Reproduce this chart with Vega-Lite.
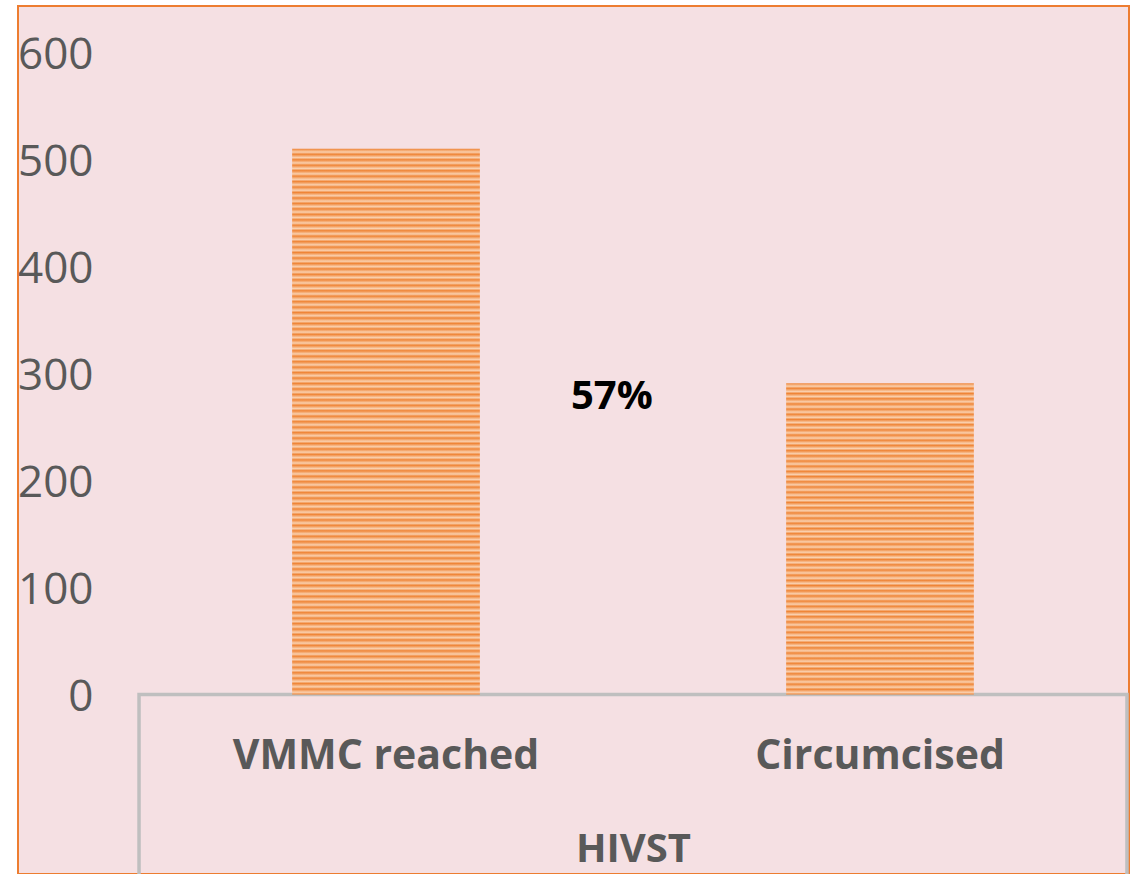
{
  "$schema": "https://vega.github.io/schema/vega-lite/v6.json",
  "autosize": {"type": "none"},
  "padding": {"left": 18, "top": 6, "right": 11, "bottom": 0},
  "width": 1111,
  "height": 868,
  "background": "white",
  "config": {"view": {"fill": "#F5E0E3", "stroke": "#ED7D31", "strokeWidth": 2}},
  "data": {"values": [
    {"category": "VMMC reached", "count": 510},
    {"category": "Circumcised", "count": 291}
  ]},
  "layer": [
    {
      "data": {"values": [{"box": "HIVST"}]},
      "mark": {"type": "rect", "fillOpacity": 0, "stroke": "#BFBFBF", "strokeWidth": 3.5, "clip": false},
      "encoding": {
        "x": {"datum": "VMMC reached", "type": "nominal", "bandPosition": -0.8157},
        "x2": {"datum": "Circumcised", "bandPosition": 1.8157},
        "y": {"datum": 0, "type": "quantitative"},
        "y2": {"datum": -300}
      }
    },
    {
      "transform": [{"filter": "datum.category === 'VMMC reached'"}],
      "mark": {"type": "bar", "color": {"gradient": "linear", "x1": 0, "y1": 0, "x2": 0, "y2": 1, "stops": [
        {"offset":0,"color":"#EF8537"},{"offset":0.006,"color":"#FAD0AE"},
        {"offset":0.01,"color":"#EF8537"},{"offset":0.016,"color":"#FAD0AE"},
        {"offset":0.02,"color":"#EF8537"},{"offset":0.026,"color":"#FAD0AE"},
        {"offset":0.03,"color":"#EF8537"},{"offset":0.036,"color":"#FAD0AE"},
        {"offset":0.04,"color":"#EF8537"},{"offset":0.046,"color":"#FAD0AE"},
        {"offset":0.05,"color":"#EF8537"},{"offset":0.056,"color":"#FAD0AE"},
        {"offset":0.06,"color":"#EF8537"},{"offset":0.066,"color":"#FAD0AE"},
        {"offset":0.07,"color":"#EF8537"},{"offset":0.076,"color":"#FAD0AE"},
        {"offset":0.08,"color":"#EF8537"},{"offset":0.086,"color":"#FAD0AE"},
        {"offset":0.09,"color":"#EF8537"},{"offset":0.096,"color":"#FAD0AE"},
        {"offset":0.10,"color":"#EF8537"},{"offset":0.106,"color":"#FAD0AE"},
        {"offset":0.11,"color":"#EF8537"},{"offset":0.116,"color":"#FAD0AE"},
        {"offset":0.12,"color":"#EF8537"},{"offset":0.126,"color":"#FAD0AE"},
        {"offset":0.13,"color":"#EF8537"},{"offset":0.136,"color":"#FAD0AE"},
        {"offset":0.14,"color":"#EF8537"},{"offset":0.146,"color":"#FAD0AE"},
        {"offset":0.15,"color":"#EF8537"},{"offset":0.156,"color":"#FAD0AE"},
        {"offset":0.16,"color":"#EF8537"},{"offset":0.166,"color":"#FAD0AE"},
        {"offset":0.17,"color":"#EF8537"},{"offset":0.176,"color":"#FAD0AE"},
        {"offset":0.18,"color":"#EF8537"},{"offset":0.186,"color":"#FAD0AE"},
        {"offset":0.19,"color":"#EF8537"},{"offset":0.196,"color":"#FAD0AE"},
        {"offset":0.20,"color":"#EF8537"},{"offset":0.206,"color":"#FAD0AE"},
        {"offset":0.21,"color":"#EF8537"},{"offset":0.216,"color":"#FAD0AE"},
        {"offset":0.22,"color":"#EF8537"},{"offset":0.226,"color":"#FAD0AE"},
        {"offset":0.23,"color":"#EF8537"},{"offset":0.236,"color":"#FAD0AE"},
        {"offset":0.24,"color":"#EF8537"},{"offset":0.246,"color":"#FAD0AE"},
        {"offset":0.25,"color":"#EF8537"},{"offset":0.256,"color":"#FAD0AE"},
        {"offset":0.26,"color":"#EF8537"},{"offset":0.266,"color":"#FAD0AE"},
        {"offset":0.27,"color":"#EF8537"},{"offset":0.276,"color":"#FAD0AE"},
        {"offset":0.28,"color":"#EF8537"},{"offset":0.286,"color":"#FAD0AE"},
        {"offset":0.29,"color":"#EF8537"},{"offset":0.296,"color":"#FAD0AE"},
        {"offset":0.30,"color":"#EF8537"},{"offset":0.306,"color":"#FAD0AE"},
        {"offset":0.31,"color":"#EF8537"},{"offset":0.316,"color":"#FAD0AE"},
        {"offset":0.32,"color":"#EF8537"},{"offset":0.326,"color":"#FAD0AE"},
        {"offset":0.33,"color":"#EF8537"},{"offset":0.336,"color":"#FAD0AE"},
        {"offset":0.34,"color":"#EF8537"},{"offset":0.346,"color":"#FAD0AE"},
        {"offset":0.35,"color":"#EF8537"},{"offset":0.356,"color":"#FAD0AE"},
        {"offset":0.36,"color":"#EF8537"},{"offset":0.366,"color":"#FAD0AE"},
        {"offset":0.37,"color":"#EF8537"},{"offset":0.376,"color":"#FAD0AE"},
        {"offset":0.38,"color":"#EF8537"},{"offset":0.386,"color":"#FAD0AE"},
        {"offset":0.39,"color":"#EF8537"},{"offset":0.396,"color":"#FAD0AE"},
        {"offset":0.40,"color":"#EF8537"},{"offset":0.406,"color":"#FAD0AE"},
        {"offset":0.41,"color":"#EF8537"},{"offset":0.416,"color":"#FAD0AE"},
        {"offset":0.42,"color":"#EF8537"},{"offset":0.426,"color":"#FAD0AE"},
        {"offset":0.43,"color":"#EF8537"},{"offset":0.436,"color":"#FAD0AE"},
        {"offset":0.44,"color":"#EF8537"},{"offset":0.446,"color":"#FAD0AE"},
        {"offset":0.45,"color":"#EF8537"},{"offset":0.456,"color":"#FAD0AE"},
        {"offset":0.46,"color":"#EF8537"},{"offset":0.466,"color":"#FAD0AE"},
        {"offset":0.47,"color":"#EF8537"},{"offset":0.476,"color":"#FAD0AE"},
        {"offset":0.48,"color":"#EF8537"},{"offset":0.486,"color":"#FAD0AE"},
        {"offset":0.49,"color":"#EF8537"},{"offset":0.496,"color":"#FAD0AE"},
        {"offset":0.50,"color":"#EF8537"},{"offset":0.506,"color":"#FAD0AE"},
        {"offset":0.51,"color":"#EF8537"},{"offset":0.516,"color":"#FAD0AE"},
        {"offset":0.52,"color":"#EF8537"},{"offset":0.526,"color":"#FAD0AE"},
        {"offset":0.53,"color":"#EF8537"},{"offset":0.536,"color":"#FAD0AE"},
        {"offset":0.54,"color":"#EF8537"},{"offset":0.546,"color":"#FAD0AE"},
        {"offset":0.55,"color":"#EF8537"},{"offset":0.556,"color":"#FAD0AE"},
        {"offset":0.56,"color":"#EF8537"},{"offset":0.566,"color":"#FAD0AE"},
        {"offset":0.57,"color":"#EF8537"},{"offset":0.576,"color":"#FAD0AE"},
        {"offset":0.58,"color":"#EF8537"},{"offset":0.586,"color":"#FAD0AE"},
        {"offset":0.59,"color":"#EF8537"},{"offset":0.596,"color":"#FAD0AE"},
        {"offset":0.60,"color":"#EF8537"},{"offset":0.606,"color":"#FAD0AE"},
        {"offset":0.61,"color":"#EF8537"},{"offset":0.616,"color":"#FAD0AE"},
        {"offset":0.62,"color":"#EF8537"},{"offset":0.626,"color":"#FAD0AE"},
        {"offset":0.63,"color":"#EF8537"},{"offset":0.636,"color":"#FAD0AE"},
        {"offset":0.64,"color":"#EF8537"},{"offset":0.646,"color":"#FAD0AE"},
        {"offset":0.65,"color":"#EF8537"},{"offset":0.656,"color":"#FAD0AE"},
        {"offset":0.66,"color":"#EF8537"},{"offset":0.666,"color":"#FAD0AE"},
        {"offset":0.67,"color":"#EF8537"},{"offset":0.676,"color":"#FAD0AE"},
        {"offset":0.68,"color":"#EF8537"},{"offset":0.686,"color":"#FAD0AE"},
        {"offset":0.69,"color":"#EF8537"},{"offset":0.696,"color":"#FAD0AE"},
        {"offset":0.70,"color":"#EF8537"},{"offset":0.706,"color":"#FAD0AE"},
        {"offset":0.71,"color":"#EF8537"},{"offset":0.716,"color":"#FAD0AE"},
        {"offset":0.72,"color":"#EF8537"},{"offset":0.726,"color":"#FAD0AE"},
        {"offset":0.73,"color":"#EF8537"},{"offset":0.736,"color":"#FAD0AE"},
        {"offset":0.74,"color":"#EF8537"},{"offset":0.746,"color":"#FAD0AE"},
        {"offset":0.75,"color":"#EF8537"},{"offset":0.756,"color":"#FAD0AE"},
        {"offset":0.76,"color":"#EF8537"},{"offset":0.766,"color":"#FAD0AE"},
        {"offset":0.77,"color":"#EF8537"},{"offset":0.776,"color":"#FAD0AE"},
        {"offset":0.78,"color":"#EF8537"},{"offset":0.786,"color":"#FAD0AE"},
        {"offset":0.79,"color":"#EF8537"},{"offset":0.796,"color":"#FAD0AE"},
        {"offset":0.80,"color":"#EF8537"},{"offset":0.806,"color":"#FAD0AE"},
        {"offset":0.81,"color":"#EF8537"},{"offset":0.816,"color":"#FAD0AE"},
        {"offset":0.82,"color":"#EF8537"},{"offset":0.826,"color":"#FAD0AE"},
        {"offset":0.83,"color":"#EF8537"},{"offset":0.836,"color":"#FAD0AE"},
        {"offset":0.84,"color":"#EF8537"},{"offset":0.846,"color":"#FAD0AE"},
        {"offset":0.85,"color":"#EF8537"},{"offset":0.856,"color":"#FAD0AE"},
        {"offset":0.86,"color":"#EF8537"},{"offset":0.866,"color":"#FAD0AE"},
        {"offset":0.87,"color":"#EF8537"},{"offset":0.876,"color":"#FAD0AE"},
        {"offset":0.88,"color":"#EF8537"},{"offset":0.886,"color":"#FAD0AE"},
        {"offset":0.89,"color":"#EF8537"},{"offset":0.896,"color":"#FAD0AE"},
        {"offset":0.90,"color":"#EF8537"},{"offset":0.906,"color":"#FAD0AE"},
        {"offset":0.91,"color":"#EF8537"},{"offset":0.916,"color":"#FAD0AE"},
        {"offset":0.92,"color":"#EF8537"},{"offset":0.926,"color":"#FAD0AE"},
        {"offset":0.93,"color":"#EF8537"},{"offset":0.936,"color":"#FAD0AE"},
        {"offset":0.94,"color":"#EF8537"},{"offset":0.946,"color":"#FAD0AE"},
        {"offset":0.95,"color":"#EF8537"},{"offset":0.956,"color":"#FAD0AE"},
        {"offset":0.96,"color":"#EF8537"},{"offset":0.966,"color":"#FAD0AE"},
        {"offset":0.97,"color":"#EF8537"},{"offset":0.976,"color":"#FAD0AE"},
        {"offset":0.98,"color":"#EF8537"},{"offset":0.986,"color":"#FAD0AE"},
        {"offset":0.99,"color":"#EF8537"},{"offset":0.996,"color":"#FAD0AE"},
        {"offset":1,"color":"#EF8537"}
      ]}},
      "encoding": {
        "x": {
          "field": "category", "type": "nominal", "sort": null,
          "scale": {"domain": ["VMMC reached", "Circumcised"], "range": [121, 1109], "paddingInner": 0.62, "paddingOuter": 0.31},
          "axis": {
            "orient": "bottom", "offset": -180, "domain": false, "ticks": false, "labelAngle": 0, "labelLimit": 0,
            "labelAlign": "center", "labelBound": false, "labelOverlap": false,
            "labelFont": "Open Sans", "labelFontSize": 41, "labelFontWeight": "bold", "labelColor": "#595959",
            "labelPadding": 62,
            "title": "HIVST", "titleFont": "Open Sans", "titleFontSize": 40, "titleFontWeight": "bold",
            "titleColor": "#595959", "titlePadding": 53
          }
        },
        "y": {
          "field": "count", "type": "quantitative",
          "scale": {"domain": [-167.8, 643.5], "nice": false, "zero": false},
          "axis": {
            "values": [0, 100, 200, 300, 400, 500, 600], "domain": false, "ticks": false, "tickSize": 0, "grid": false,
            "labelFont": "Open Sans", "labelFontSize": 44, "labelColor": "#595959", "labelPadding": 0, "labelOffset": 3,
            "offset": -75, "title": null
          }
        }
      }
    },
    {
      "transform": [{"filter": "datum.category === 'Circumcised'"}],
      "mark": {"type": "bar", "color": {"gradient": "linear", "x1": 0, "y1": 0, "x2": 0, "y2": 1, "stops": [
        {"offset":0,"color":"#EF8537"},{"offset":0.01,"color":"#FAD0AE"},
        {"offset":0.0167,"color":"#EF8537"},{"offset":0.0267,"color":"#FAD0AE"},
        {"offset":0.0333,"color":"#EF8537"},{"offset":0.0433,"color":"#FAD0AE"},
        {"offset":0.05,"color":"#EF8537"},{"offset":0.06,"color":"#FAD0AE"},
        {"offset":0.0667,"color":"#EF8537"},{"offset":0.0767,"color":"#FAD0AE"},
        {"offset":0.0833,"color":"#EF8537"},{"offset":0.0933,"color":"#FAD0AE"},
        {"offset":0.1,"color":"#EF8537"},{"offset":0.11,"color":"#FAD0AE"},
        {"offset":0.1167,"color":"#EF8537"},{"offset":0.1267,"color":"#FAD0AE"},
        {"offset":0.1333,"color":"#EF8537"},{"offset":0.1433,"color":"#FAD0AE"},
        {"offset":0.15,"color":"#EF8537"},{"offset":0.16,"color":"#FAD0AE"},
        {"offset":0.1667,"color":"#EF8537"},{"offset":0.1767,"color":"#FAD0AE"},
        {"offset":0.1833,"color":"#EF8537"},{"offset":0.1933,"color":"#FAD0AE"},
        {"offset":0.2,"color":"#EF8537"},{"offset":0.21,"color":"#FAD0AE"},
        {"offset":0.2167,"color":"#EF8537"},{"offset":0.2267,"color":"#FAD0AE"},
        {"offset":0.2333,"color":"#EF8537"},{"offset":0.2433,"color":"#FAD0AE"},
        {"offset":0.25,"color":"#EF8537"},{"offset":0.26,"color":"#FAD0AE"},
        {"offset":0.2667,"color":"#EF8537"},{"offset":0.2767,"color":"#FAD0AE"},
        {"offset":0.2833,"color":"#EF8537"},{"offset":0.2933,"color":"#FAD0AE"},
        {"offset":0.3,"color":"#EF8537"},{"offset":0.31,"color":"#FAD0AE"},
        {"offset":0.3167,"color":"#EF8537"},{"offset":0.3267,"color":"#FAD0AE"},
        {"offset":0.3333,"color":"#EF8537"},{"offset":0.3433,"color":"#FAD0AE"},
        {"offset":0.35,"color":"#EF8537"},{"offset":0.36,"color":"#FAD0AE"},
        {"offset":0.3667,"color":"#EF8537"},{"offset":0.3767,"color":"#FAD0AE"},
        {"offset":0.3833,"color":"#EF8537"},{"offset":0.3933,"color":"#FAD0AE"},
        {"offset":0.4,"color":"#EF8537"},{"offset":0.41,"color":"#FAD0AE"},
        {"offset":0.4167,"color":"#EF8537"},{"offset":0.4267,"color":"#FAD0AE"},
        {"offset":0.4333,"color":"#EF8537"},{"offset":0.4433,"color":"#FAD0AE"},
        {"offset":0.45,"color":"#EF8537"},{"offset":0.46,"color":"#FAD0AE"},
        {"offset":0.4667,"color":"#EF8537"},{"offset":0.4767,"color":"#FAD0AE"},
        {"offset":0.4833,"color":"#EF8537"},{"offset":0.4933,"color":"#FAD0AE"},
        {"offset":0.5,"color":"#EF8537"},{"offset":0.51,"color":"#FAD0AE"},
        {"offset":0.5167,"color":"#EF8537"},{"offset":0.5267,"color":"#FAD0AE"},
        {"offset":0.5333,"color":"#EF8537"},{"offset":0.5433,"color":"#FAD0AE"},
        {"offset":0.55,"color":"#EF8537"},{"offset":0.56,"color":"#FAD0AE"},
        {"offset":0.5667,"color":"#EF8537"},{"offset":0.5767,"color":"#FAD0AE"},
        {"offset":0.5833,"color":"#EF8537"},{"offset":0.5933,"color":"#FAD0AE"},
        {"offset":0.6,"color":"#EF8537"},{"offset":0.61,"color":"#FAD0AE"},
        {"offset":0.6167,"color":"#EF8537"},{"offset":0.6267,"color":"#FAD0AE"},
        {"offset":0.6333,"color":"#EF8537"},{"offset":0.6433,"color":"#FAD0AE"},
        {"offset":0.65,"color":"#EF8537"},{"offset":0.66,"color":"#FAD0AE"},
        {"offset":0.6667,"color":"#EF8537"},{"offset":0.6767,"color":"#FAD0AE"},
        {"offset":0.6833,"color":"#EF8537"},{"offset":0.6933,"color":"#FAD0AE"},
        {"offset":0.7,"color":"#EF8537"},{"offset":0.71,"color":"#FAD0AE"},
        {"offset":0.7167,"color":"#EF8537"},{"offset":0.7267,"color":"#FAD0AE"},
        {"offset":0.7333,"color":"#EF8537"},{"offset":0.7433,"color":"#FAD0AE"},
        {"offset":0.75,"color":"#EF8537"},{"offset":0.76,"color":"#FAD0AE"},
        {"offset":0.7667,"color":"#EF8537"},{"offset":0.7767,"color":"#FAD0AE"},
        {"offset":0.7833,"color":"#EF8537"},{"offset":0.7933,"color":"#FAD0AE"},
        {"offset":0.8,"color":"#EF8537"},{"offset":0.81,"color":"#FAD0AE"},
        {"offset":0.8167,"color":"#EF8537"},{"offset":0.8267,"color":"#FAD0AE"},
        {"offset":0.8333,"color":"#EF8537"},{"offset":0.8433,"color":"#FAD0AE"},
        {"offset":0.85,"color":"#EF8537"},{"offset":0.86,"color":"#FAD0AE"},
        {"offset":0.8667,"color":"#EF8537"},{"offset":0.8767,"color":"#FAD0AE"},
        {"offset":0.8833,"color":"#EF8537"},{"offset":0.8933,"color":"#FAD0AE"},
        {"offset":0.9,"color":"#EF8537"},{"offset":0.91,"color":"#FAD0AE"},
        {"offset":0.9167,"color":"#EF8537"},{"offset":0.9267,"color":"#FAD0AE"},
        {"offset":0.9333,"color":"#EF8537"},{"offset":0.9433,"color":"#FAD0AE"},
        {"offset":0.95,"color":"#EF8537"},{"offset":0.96,"color":"#FAD0AE"},
        {"offset":0.9667,"color":"#EF8537"},{"offset":0.9767,"color":"#FAD0AE"},
        {"offset":0.9833,"color":"#EF8537"},{"offset":0.9933,"color":"#FAD0AE"},
        {"offset":1,"color":"#EF8537"}
      ]}},
      "encoding": {
        "x": {"field": "category", "type": "nominal", "sort": null},
        "y": {"field": "count", "type": "quantitative"}
      }
    },
    {
      "data": {"values": [{"label": "57%"}]},
      "mark": {"type": "text", "font": "Open Sans", "fontSize": 40, "fontWeight": "bold", "color": "#000000", "baseline": "middle", "align": "center"},
      "encoding": {
        "x": {"datum": "VMMC reached", "type": "nominal", "bandPosition": 1.703},
        "y": {"datum": 278, "type": "quantitative"},
        "text": {"field": "label"}
      }
    }
  ]
}
